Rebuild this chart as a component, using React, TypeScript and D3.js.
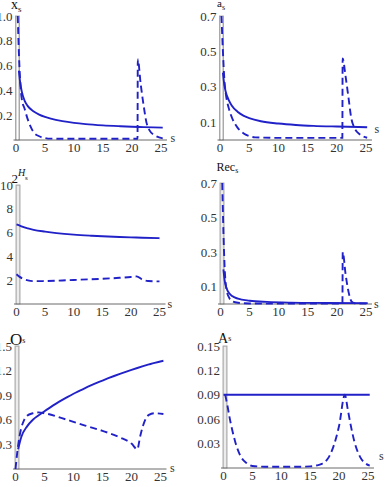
import React from "react";
import * as d3 from "d3";

const W = 385;
const H = 487;

// Horizon ticks shared by every panel
const sTicks = [0, 5, 10, 15, 20, 25];

// Each series is a list of [s, value] pairs
const xSolid: [number, number][] = [[0.5,0.56],[0.7,0.47],[1,0.39],[1.5,0.315],[2,0.275],[3,0.232],[4,0.205],[5,0.186],[6,0.172],[8,0.152],[10,0.138],[12,0.128],[15,0.118],[18,0.111],[20,0.107],[22,0.104],[25.3,0.1]];
const xDashed: [number, number][] = [[0.3,1.0],[0.5,0.7],[0.8,0.42],[1,0.33],[1.5,0.25],[2,0.17],[2.5,0.11],[3,0.065],[4,0.03],[5,0.016],[6,0.011],[10,0.01],[15,0.01],[20.95,0.01],[21,0.65],[21.5,0.45],[22,0.28],[22.5,0.14],[23,0.08],[24,0.035],[25.3,0.013]];
const xTicks = [0.2, 0.4, 0.6, 0.8, 1.0];

const aSolid: [number, number][] = [[0.5,0.38],[0.75,0.31],[1,0.27],[1.5,0.225],[2,0.195],[3,0.16],[4,0.138],[5,0.124],[7,0.106],[10,0.093],[13,0.085],[16,0.08],[20,0.076],[25.2,0.072]];
const aDashed: [number, number][] = [[0.25,0.7],[0.5,0.5],[0.75,0.34],[1,0.26],[1.5,0.18],[2,0.13],[3,0.07],[4,0.038],[5,0.022],[6,0.015],[10,0.012],[20.95,0.012],[21,0.46],[21.5,0.36],[22,0.24],[22.5,0.12],[23,0.07],[24,0.03],[25.2,0.013]];
const aTicks = [0.1, 0.3, 0.5, 0.7];

const hSolid: [number, number][] = [[0,6.7],[0.5,6.6],[1,6.5],[2,6.35],[3,6.23],[5,6.08],[7,5.96],[10,5.83],[13,5.74],[15,5.69],[18,5.63],[20,5.6],[22,5.57],[25,5.53]];
const hDashed: [number, number][] = [[0,2.5],[0.5,2.3],[1,2.15],[2,1.98],[3,1.92],[5,1.93],[8,1.98],[10,2.02],[13,2.08],[15,2.12],[18,2.2],[20,2.27],[21,2.32],[22,2.05],[23,1.93],[25,1.9]];
const hTicks = [2, 4, 6, 8, 10];

const recSolid: [number, number][] = [[0.5,0.2],[0.7,0.14],[1,0.095],[1.5,0.062],[2,0.046],[3,0.031],[5,0.019],[8,0.012],[12,0.008],[18,0.006],[25.3,0.005]];
const recDashed: [number, number][] = [[0.3,0.7],[0.5,0.42],[0.7,0.22],[1,0.09],[1.5,0.035],[2,0.016],[3,0.007],[5,0.003],[10,0.002],[20.95,0.002],[21,0.3],[21.5,0.17],[22,0.07],[22.5,0.015],[23,0.004],[25.3,0.002]];
const recTicks = [0.1, 0.3, 0.5, 0.7];

const oSolid: [number, number][] = [[0.45,0.24],[1,0.39],[2,0.52],[3,0.6],[4,0.655],[5,0.705],[6,0.752],[7,0.797],[8,0.84],[9,0.88],[10,0.918],[11,0.953],[12,0.987],[13,1.019],[14,1.05],[15,1.079],[16,1.107],[17,1.134],[18,1.16],[19,1.185],[20,1.209],[21,1.232],[22,1.254],[23,1.275],[24,1.295],[25.5,1.32]];
const oDashed: [number, number][] = [[0,0],[0.3,0.2],[0.7,0.4],[1,0.5],[1.5,0.6],[2,0.65],[3,0.68],[4,0.69],[5,0.68],[8,0.62],[10,0.575],[12,0.53],[15,0.465],[18,0.385],[20,0.31],[21,0.24],[21.5,0.4],[22,0.53],[22.5,0.62],[23,0.66],[24,0.68],[25.5,0.67]];
const oTicks = [0.3, 0.6, 0.9, 1.2, 1.5];

const lamSolid: [number, number][] = [[0,0.09],[25.3,0.09]];
const lamDashed: [number, number][] = [[0.3,0.09],[0.7,0.076],[1,0.064],[1.5,0.047],[2,0.033],[2.5,0.022],[3,0.014],[4,0.006],[5,0.0025],[8,0.0015],[12,0.0015],[15,0.002],[16,0.003],[17,0.005],[18,0.011],[19,0.026],[20,0.052],[21,0.09],[21.5,0.072],[22,0.053],[22.7,0.031],[23.6,0.014],[24.5,0.006],[25.3,0.003]];
const lamTicks = [0.03, 0.06, 0.09, 0.12, 0.15];

const BLUE = "#2121c8";
const SERIF = "'Liberation Serif', 'DejaVu Serif', serif";

type Panel = {
  x0: number; x25: number; yTop: number; yAxis: number;
  yMax: number; ticks: number[]; fmt: (v: number) => string;
  solid: [number, number][]; dashed: [number, number][];
  sdx: number; sdy: number;
  title: React.ReactNode;
};

const fmt1 = (v: number) => d3.format(".1f")(v);
const fmt2 = (v: number) => d3.format(".2f")(v);
const fmt0 = (v: number) => String(v);

const panels: Panel[] = [
  {
    x0: 16, x25: 161, yTop: 16, yAxis: 140, yMax: 1.0, ticks: xTicks, fmt: fmt1,
    solid: xSolid, dashed: xDashed, sdx: 9.5, sdy: 2,
    title: (
      <text x={11} y={9} fontSize={14}>x<tspan fontSize={9} dy={3}>s</tspan></text>
    ),
  },
  {
    x0: 220, x25: 366, yTop: 16, yAxis: 140, yMax: 0.7, ticks: aTicks, fmt: fmt1,
    solid: aSolid, dashed: aDashed, sdx: 8.5, sdy: -7,
    title: (
      <text x={217} y={7} fontSize={11}>a<tspan fontSize={8} dy={3}>s</tspan></text>
    ),
  },
  {
    x0: 16.5, x25: 159.5, yTop: 185, yAxis: 304, yMax: 10, ticks: hTicks, fmt: fmt0,
    solid: hSolid, dashed: hDashed, sdx: 8, sdy: 4,
    title: (
      <g>
        <text x={11.5} y={183} fontSize={13}>2</text>
        <text x={18} y={176} fontSize={10} fontStyle="italic">H</text>
        <text x={25} y={180} fontSize={7}>s</text>
      </g>
    ),
  },
  {
    x0: 220.5, x25: 366, yTop: 183, yAxis: 304, yMax: 0.7, ticks: recTicks, fmt: fmt1,
    solid: recSolid, dashed: recDashed, sdx: 8, sdy: 4,
    title: (
      <text x={216.5} y={171} fontSize={12}>Rec<tspan fontSize={8} dy={2}>s</tspan></text>
    ),
  },
  {
    x0: 15.5, x25: 160.5, yTop: 346, yAxis: 469, yMax: 1.5, ticks: oTicks, fmt: fmt1,
    solid: oSolid, dashed: oDashed, sdx: 9.5, sdy: 3,
    title: (
      <text x={10} y={345} fontSize={17}>O<tspan fontSize={8} dy={-2}>s</tspan></text>
    ),
  },
  {
    x0: 223.5, x25: 368, yTop: 346, yAxis: 468, yMax: 0.15, ticks: lamTicks, fmt: fmt2,
    solid: lamSolid, dashed: lamDashed, sdx: 11, sdy: -8,
    title: (
      <text x={218} y={343} fontSize={14}>A<tspan fontSize={8} dy={-2}>s</tspan></text>
    ),
  },
];

function PanelView({ p }: { p: Panel }) {
  const x = d3.scaleLinear().domain([0, 25]).range([p.x0, p.x25]);
  const y = d3.scaleLinear().domain([0, p.yMax]).range([p.yAxis, p.yTop]);
  const line = d3
    .line<[number, number]>()
    .x((d) => x(d[0]))
    .y((d) => y(d[1]))
    .curve(d3.curveMonotoneX);
  return (
    <g fontFamily={SERIF}>
      {/* shaded band marking the initial period */}
      <rect
        x={x(0) - 0.5}
        y={y(p.yMax)}
        width={4}
        height={p.yAxis - y(p.yMax)}
        fill="#d6d6d6"
        stroke="#9a9a9a"
        strokeWidth={0.8}
      />
      <line x1={x(0) + 1.5} x2={x(0) + 1.5} y1={y(p.yMax) + 1} y2={p.yAxis} stroke="#ffffff" strokeWidth={1.1} />
      {/* horizontal axis */}
      <line x1={x(0) - 2.5} x2={x(25) + 6} y1={p.yAxis} y2={p.yAxis} stroke="#6a6a6a" strokeWidth={1} />
      {sTicks.map((t) => (
        <text key={t} x={x(t)} y={p.yAxis + 11.5} fontSize={13} textAnchor="middle" fill="#333">
          {t}
        </text>
      ))}
      {p.ticks.map((t) => (
        <text key={t} x={x(0) - 3.5} y={y(t)} dy="0.35em" fontSize={13} textAnchor="end" fill="#333">
          {p.fmt(t)}
        </text>
      ))}
      <text x={x(25) + p.sdx} y={p.yAxis + p.sdy} fontSize={12} fill="#333">s</text>
      <path d={line(p.solid) || ""} fill="none" stroke={BLUE} strokeWidth={1.9} />
      <path d={line(p.dashed) || ""} fill="none" stroke={BLUE} strokeWidth={1.9} strokeDasharray="7,4" />
      <g fill="#111">{p.title}</g>
    </g>
  );
}

export default function App() {
  return (
    <svg
      width={W}
      height={H}
      viewBox={`0 0 ${W} ${H}`}
      style={{ position: "absolute", left: 0, top: 0, background: "#fff" }}
    >
      <rect width={W} height={H} fill="#fff" />
      {panels.map((p, i) => (
        <PanelView key={i} p={p} />
      ))}
    </svg>
  );
}
